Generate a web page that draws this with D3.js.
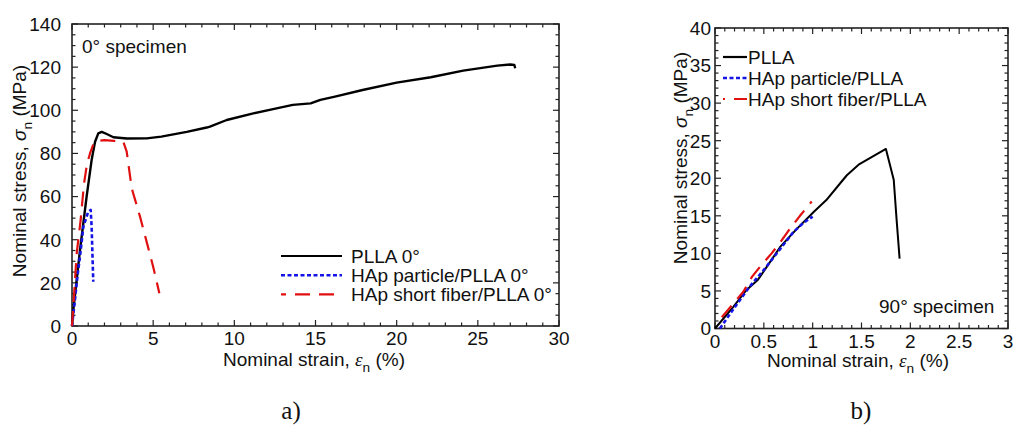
<!DOCTYPE html>
<html><head><meta charset="utf-8">
<script src="https://cdn.jsdelivr.net/npm/d3@7"></script>
<style>
body{margin:0;background:#fff}
svg{display:block}
text{font-family:"Liberation Sans",Arial,Helvetica,sans-serif;fill:#111}
.cap{font-family:"Liberation Serif","Times New Roman",serif}
</style>
</head><body>
<svg id="c" width="1013" height="428"></svg>
<script>
// ---------- DATA (panel a: 0° specimen) ----------
const aXTicks = [0, 5, 10, 15, 20, 25, 30];
const aYTicks = [0, 20, 40, 60, 80, 100, 120, 140];
const aPLLA = [[0,0],[0.08,7.4],[0.49,35],[0.9,60],[1.21,77],[1.42,85.4],[1.62,89.3],[1.83,90],[2.14,89],[2.55,87.5],[3.37,86.9],[4.6,87],[5.5,87.8],[7.07,90],[8.3,92],[8.5,92.4],[9.53,95.5],[11.17,98.6],[12.6,100.9],[13.6,102.5],[14.7,103.2],[15.3,104.8],[16.2,106.3],[17.9,109.4],[20.0,112.8],[22.1,115.3],[24.1,118.4],[26.2,120.7],[27.0,121.2],[27.25,121],[27.3,119.5]];
const aParticle = [[0,0],[0.18,12],[0.35,24],[0.49,32],[0.7,46],[1.0,53],[1.15,53.8],[1.21,46],[1.26,33],[1.31,20.5]];
const aFiber = [[0,0],[0.08,9],[0.29,33.7],[0.53,49],[0.74,66],[0.92,75],[1.11,80],[1.3,84],[1.48,85.7],[2.0,86.2],[2.6,85.8],[3.16,85.4],[3.37,80.8],[3.68,63.8],[4.19,50.7],[4.6,39],[5.0,27.5],[5.38,15.2]];
const aLegend = ["PLLA 0°", "HAp particle/PLLA 0°", "HAp short fiber/PLLA 0°"];

// ---------- DATA (panel b: 90° specimen) ----------
const bXTicks = [0, 0.5, 1, 1.5, 2, 2.5, 3];
const bYTicks = [0, 5, 10, 15, 20, 25, 30, 35, 40];
const bPLLA = [[0,0],[0.19,2.9],[0.32,5.1],[0.44,6.5],[0.53,8.2],[0.67,10.9],[0.84,13.3],[1.01,15.5],[1.14,17.1],[1.28,19.3],[1.35,20.4],[1.47,21.8],[1.59,22.7],[1.75,23.9],[1.83,19.8],[1.86,14.4],[1.89,9.3]];
const bParticle = [[0.05,0],[0.2,2.8],[0.35,5.5],[0.5,7.8],[0.65,10.3],[0.8,12.8],[0.9,14],[1.0,14.9]];
const bFiber = [[0.07,1.5],[0.29,4.9],[0.38,6.9],[0.46,8.2],[0.58,10],[0.67,11.5],[0.78,13.5],[0.87,15],[0.99,16.9]];
const bLegend = ["PLLA", "HAp particle/PLLA", "HAp short fiber/PLLA"];

// ---------- STYLES ----------
const styles = [
  {color:"#000000", width:2.2, dash:null},
  {color:"#1414e6", width:2.6, dash:"4,2.5"},
  {color:"#e01010", width:2.2, dash:"15,9"}
];

const svg = d3.select("#c");
const fmt = d3.format("~g");

function panel(cfg){
  const x = d3.scaleLinear().domain([cfg.xTicks[0], cfg.xTicks[cfg.xTicks.length-1]]).range(cfg.xr);
  const y = d3.scaleLinear().domain([cfg.yTicks[0], cfg.yTicks[cfg.yTicks.length-1]]).range(cfg.yr);
  const g = svg.append("g");
  const [x0,x1] = cfg.xr, [y0,y1] = cfg.yr; // y0 bottom, y1 top
  const majL = 6, minL = 3.5;
  const tk = g.append("g").attr("stroke","#222").attr("stroke-width",1.2);
  const xMin = d3.range(x.domain()[0], x.domain()[1]+1e-9, cfg.xMinor);
  const yMin = d3.range(y.domain()[0], y.domain()[1]+1e-9, cfg.yMinor);
  xMin.forEach(v=>{
    const L = cfg.xTicks.some(t=>Math.abs(t-v)<1e-6) ? majL : minL;
    tk.append("line").attr("x1",x(v)).attr("x2",x(v)).attr("y1",y0).attr("y2",y0-L);
    tk.append("line").attr("x1",x(v)).attr("x2",x(v)).attr("y1",y1).attr("y2",y1+L);
  });
  yMin.forEach(v=>{
    const L = cfg.yTicks.some(t=>Math.abs(t-v)<1e-6) ? majL : minL;
    tk.append("line").attr("y1",y(v)).attr("y2",y(v)).attr("x1",x0).attr("x2",x0+L);
    tk.append("line").attr("y1",y(v)).attr("y2",y(v)).attr("x1",x1).attr("x2",x1-L);
  });
  g.append("rect").attr("x",x0).attr("y",y1).attr("width",x1-x0).attr("height",y0-y1)
    .attr("fill","none").attr("stroke","#222").attr("stroke-width",1.6);
  // tick labels
  g.selectAll(".xl").data(cfg.xTicks).join("text").attr("x",d=>x(d)).attr("y",y0+19)
    .attr("text-anchor","middle").attr("font-size",cfg.fs).text(d=>fmt(d));
  g.selectAll(".yl").data(cfg.yTicks).join("text").attr("x",cfg.yLabX).attr("y",d=>y(d)).attr("dy","0.36em")
    .attr("text-anchor","end").attr("font-size",cfg.fs).text(d=>fmt(d));
  // curves
  const line = d3.line().x(d=>x(d[0])).y(d=>y(d[1]));
  cfg.series.forEach((s,i)=>{
    const st = styles[i];
    g.append("path").datum(s).attr("d",line).attr("fill","none")
      .attr("stroke",st.color).attr("stroke-width",i===0?cfg.blackW:st.width)
      .attr("stroke-dasharray",st.dash).attr("stroke-linejoin","round");
  });
  // legend
  cfg.legend.forEach((t,i)=>{
    const st = styles[i];
    const yy = cfg.legY + i*cfg.legDy;
    g.append("line").attr("x1",cfg.legX0).attr("x2",cfg.legX1).attr("y1",yy).attr("y2",yy)
      .attr("stroke",st.color).attr("stroke-width",st.width).attr("stroke-dasharray",st.dash)
      .attr("stroke-dashoffset", i===2 ? cfg.legOff : 0);
    g.append("text").attr("x",cfg.legTX).attr("y",yy).attr("dy","0.36em").attr("font-size",cfg.fs).text(t);
  });
  // axis titles
  const xt = g.append("text").attr("x",cfg.xTitle[0]).attr("y",cfg.xTitle[1]).attr("text-anchor","middle").attr("font-size",cfg.fs);
  xt.append("tspan").text("Nominal strain, ");
  xt.append("tspan").attr("font-style","italic").attr("font-family","'Liberation Serif',serif").text("ε");
  xt.append("tspan").attr("font-size",cfg.fs*0.72).attr("dy",6).text("n");
  xt.append("tspan").attr("dy",-6).text(" (%)");
  const yt = g.append("text").attr("transform",`translate(${cfg.yTitle[0]},${cfg.yTitle[1]}) rotate(-90)`)
    .attr("text-anchor","middle").attr("font-size",cfg.fs);
  yt.append("tspan").text("Nominal stress, ");
  yt.append("tspan").attr("font-style","italic").text("σ");
  yt.append("tspan").attr("font-size",cfg.fs*0.72).attr("dy",6).text("n");
  yt.append("tspan").attr("dy",-6).text(" (MPa)");
  // annotation
  g.append("text").attr("x",cfg.note[0]).attr("y",cfg.note[1]).attr("font-size",cfg.fs).text(cfg.noteText);
  g.append("text").attr("class","cap").attr("x",cfg.cap[0]).attr("y",cfg.cap[1]).attr("text-anchor","middle")
    .attr("font-size",25).text(cfg.capText);
}

panel({xTicks:aXTicks, yTicks:aYTicks, xr:[72,559], yr:[326,24], xMinor:1, yMinor:5, fs:19, yLabX:61,
  series:[aPLLA,aParticle,aFiber], blackW:2.4, legend:aLegend, legX0:281, legX1:342, legTX:351, legY:256, legDy:19.2, legOff:10,
  xTitle:[314,366], yTitle:[26,171], note:[82,53], noteText:"0° specimen", cap:[291,419], capText:"a)"});
panel({xTicks:bXTicks, yTicks:bYTicks, xr:[715,1008], yr:[328.5,28], xMinor:0.1, yMinor:1, fs:19, yLabX:711,
  series:[bPLLA,bParticle,bFiber], blackW:2, legend:bLegend, legX0:723, legX1:747, legTX:748, legY:57, legDy:21, legOff:13,
  xTitle:[858,367], yTitle:[687,158], note:[879,313], noteText:"90° specimen", cap:[861,419], capText:"b)"});
</script>
</body></html>
